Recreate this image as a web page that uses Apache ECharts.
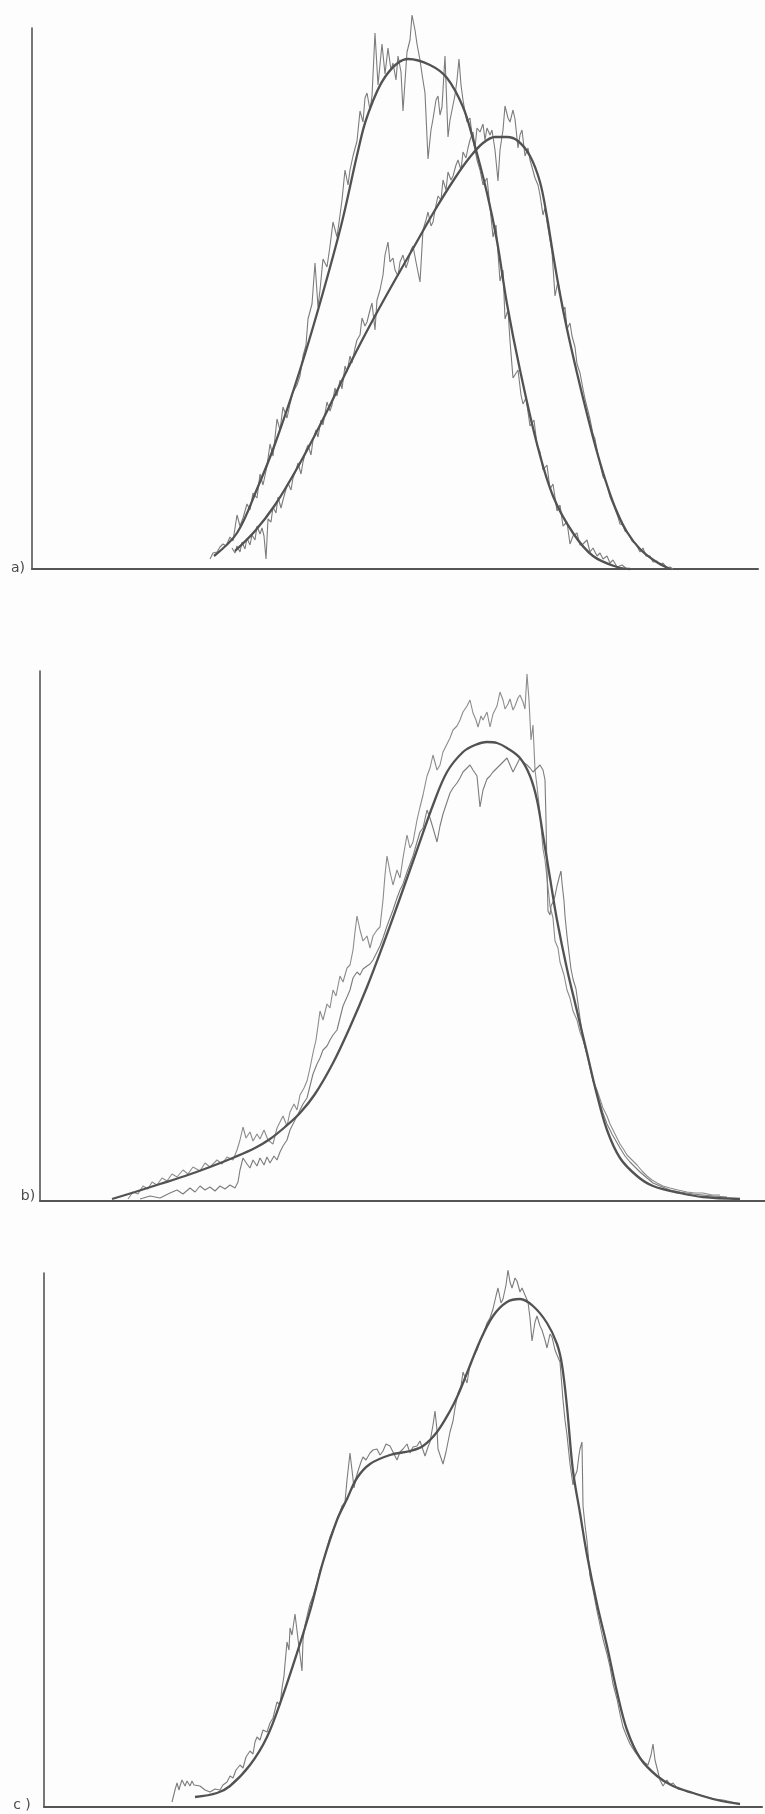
<!DOCTYPE html>
<html>
<head>
<meta charset="utf-8">
<title>a) b) c)</title>
<script src="https://cdn.jsdelivr.net/npm/echarts@6/dist/echarts.min.js"></script>
<style>
  html, body { margin: 0; padding: 0; background: #fdfdfd; }
  #chart { width: 765px; height: 1814px; }
</style>
</head>
<body>
<div id="chart"></div>
<script>
// ---- panel a : two spectra + their fits (channel, counts) ----
const aNoise1X = [178,181,185,188,191,194,198,201,205,208,
  211,215,218,221,225,228,231,235,238,241,
  245,248,251,255,258,261,265,268,271,274,
  276,280,283,286,288,291,295,298,301,305,
  308,310,313,316,318,321,325,328,331,333,
  335,338,340,343,346,350,353,356,359,361,
  364,366,369,371,375,378,380,383,385,388,
  390,393,396,399,401,404,406,408,410,413,
  416,418,420,423,425,427,429,431,433,435,
  438,440,443,445,448,451,455,458,461,464,
  468,471,473,476,478,481,486,489,491,494,
  498,502,505,508,511,515,518,521,525,528,
  531,535,538,541,545,548,551,555,558,561,
  565,568,571,575,578,581,585,590,595]
const aNoise1Y = [10,16,17,22,25,23,32,28,54,43,
  51,65,59,76,71,95,84,103,125,113,
  150,139,162,151,165,177,184,193,213,224,
  250,265,306,262,279,310,302,323,347,332,
  354,369,399,384,399,413,428,458,447,471,
  476,459,473,536,484,525,495,521,499,506,
  489,513,497,458,517,529,554,539,525,509,
  495,476,410,439,450,469,473,454,462,513,
  432,449,459,474,489,510,484,469,457,447,
  451,434,419,409,399,384,391,362,332,344,
  288,299,250,259,228,191,199,174,165,171,
  143,149,124,117,99,104,80,85,58,64,
  43,47,25,33,36,24,25,29,17,21,
  13,16,10,13,6,9,2,4,0]
const aFit1X = [182,205,225,243,268,290,310,326,335,353,376,398,415,431,441,455,465,475,488,505,521,541,561,585,598]
const aFit1Y = [13,36,80,125,199,273,347,418,452,492,510,504,491,462,430,376,328,265,199,125,73,36,13,2,0]

const aNoise2X = [200,203,205,208,210,213,215,218,220,223,
  225,228,230,232,234,236,239,241,244,246,
  249,251,254,256,259,261,264,266,269,271,
  274,276,279,281,284,286,289,291,295,298,
  300,303,305,308,310,313,315,318,320,323,
  325,328,330,333,335,338,340,343,345,348,
  351,353,356,358,361,363,366,368,371,374,
  376,379,381,384,388,391,394,396,399,401,
  404,406,409,411,414,416,419,421,424,426,
  429,431,434,436,438,441,443,445,448,451,
  453,455,458,460,463,466,468,471,473,476,
  478,481,483,486,488,490,493,496,498,500,
  503,506,508,511,513,515,518,520,523,526,
  528,531,533,535,538,540,543,545,548,551,
  553,555,558,561,563,566,568,571,574,578,
  580,583,586,588,591,593,596,600,604,608,
  611,614,618,621,625,628,631,635,638,641]
const aNoise2Y = [21,16,23,17,27,20,31,24,34,29,
  43,35,41,33,10,50,47,62,56,72,
  61,69,80,86,79,91,99,106,95,107,
  119,124,114,129,139,132,149,144,167,158,
  164,181,173,189,180,203,197,213,206,221,
  229,234,251,243,247,259,266,239,269,279,
  294,314,327,307,311,299,293,307,314,301,
  307,319,323,307,287,339,349,357,343,347,
  364,373,369,389,379,397,389,393,404,409,
  399,417,411,421,429,437,421,441,437,445,
  429,441,434,439,419,388,419,439,463,451,
  447,459,450,421,434,439,413,421,409,402,
  391,384,374,354,361,347,329,317,273,288,
  276,258,262,240,246,233,222,205,196,180,
  170,162,150,135,130,114,105,92,88,72,
  70,60,52,45,44,38,36,28,25,17,
  21,13,13,7,8,4,6,1,2,0]
const aFit2X = [203,223,243,263,283,303,323,343,363,383,403,423,438,451,463,475,486,498,508,515,521,528,535,545,555,565,575,585,595,608,623,638]
const aFit2Y = [18,38,64,97,134,174,215,253,289,324,359,391,412,426,432,432,428,413,387,352,315,275,240,196,155,117,84,57,37,20,8,0]

// ---- panel b : two overlaid spectra + one fit ----
const bUpperX = [88,93,98,103,108,112,117,122,127,132,
  137,143,148,153,160,165,170,177,182,187,
  193,197,200,203,206,210,213,217,220,224,
  228,233,237,240,243,247,250,254,257,260,
  264,267,270,273,276,278,280,283,287,290,
  293,296,300,303,307,310,313,315,317,320,
  323,327,330,333,337,340,343,345,347,350,
  353,357,360,363,367,370,373,377,380,383,
  387,390,393,397,400,403,407,410,413,417,
  420,423,427,430,433,436,438,441,443,447,
  450,453,457,460,463,465,468,470,473,475,
  478,480,483,485,487,489,491,493,495,497,
  500,503,505,507,510,513,515,518,520,524,
  527,530,533,537,540,543,547,550,553,557,
  560,563,567,570,573,577,580,584,587,592,
  597,602,607,612,617,623,630,638,647,655,
  663,672,680]
const bUpperY = [2,9,7,15,12,19,16,23,20,27,
  24,31,27,34,30,38,34,41,37,44,
  41,51,61,74,63,69,60,67,62,71,
  61,57,73,79,85,75,89,97,91,106,
  113,120,133,148,161,175,190,181,197,193,
  211,205,225,219,233,236,251,269,285,271,
  260,265,253,265,271,274,301,326,345,329,
  316,331,323,343,366,353,359,381,394,406,
  425,433,446,431,436,449,457,463,471,475,
  481,489,495,501,488,481,474,485,481,489,
  474,487,495,509,501,492,497,502,491,495,
  503,506,499,492,527,501,461,476,431,415,
  387,352,341,323,295,283,260,253,239,226,
  211,203,190,181,169,161,148,133,120,111,
  102,93,85,77,71,63,57,51,46,41,
  36,30,25,21,18,15,13,11,9,8,
  8,6,6]
const bLowerX = [100,110,120,130,137,143,150,155,160,165,
  170,175,180,185,190,195,198,200,203,207,
  210,213,217,220,224,227,230,234,237,240,
  243,247,250,253,257,260,263,267,270,273,
  277,280,283,287,290,293,297,300,303,307,
  310,313,317,320,323,327,330,333,337,340,
  343,347,350,353,357,360,363,367,370,373,
  377,380,383,387,390,393,397,400,403,407,
  410,413,417,420,423,427,430,433,437,440,
  443,447,450,453,457,460,463,467,470,473,
  477,480,483,487,490,493,497,500,503,505,
  506,507,508,510,511,513,515,517,519,521,
  522,524,525,527,529,531,533,536,539,543,
  547,550,553,557,560,563,567,572,576,580,
  585,590,595,600,607,613,620,630,640,653,
  663,673,687]
const bLowerY = [2,5,3,8,11,7,13,9,15,11,
  14,10,15,12,16,13,19,31,43,37,
  33,41,35,43,36,44,38,45,41,49,
  55,61,71,77,85,91,97,103,115,127,
  137,143,151,155,161,166,171,183,195,204,
  211,223,229,226,232,235,237,241,249,255,
  263,275,283,291,303,311,317,329,337,345,
  359,369,373,391,383,373,359,375,387,399,
  408,413,418,423,429,433,436,431,425,394,
  411,422,425,429,433,436,439,443,436,429,
  437,443,439,436,433,429,433,436,431,421,
  381,330,290,286,295,299,305,315,323,330,
  318,300,285,265,248,232,222,212,190,162,
  146,134,121,109,98,88,77,67,60,53,
  45,39,34,29,23,18,15,11,9,7,
  6,5,4]
const bFitX = [72,95,120,145,170,195,215,230,245,260,275,293,310,327,343,360,377,393,407,423,435,447,457,467,480,490,497,503,510,517,527,537,547,557,567,580,597,613,640,663,700]
const bFitY = [2,9,17,25,34,44,53,62,74,88,107,138,174,214,256,303,351,396,429,449,456,459,458,453,443,425,401,366,323,281,232,190,148,106,71,43,25,15,8,4,2]

// ---- panel c : one spectrum with a shoulder + fit ----
const cNoiseX = [128,131,133,135,136,138,139,141,143,144,
  146,148,150,152,156,161,166,171,176,179,
  183,186,189,192,196,199,202,206,209,211,
  213,216,219,223,226,229,233,236,238,240,
  241,243,245,246,248,251,254,256,258,259,
  261,264,266,269,273,276,279,282,286,289,
  293,296,298,301,303,306,308,310,312,314,
  317,319,322,326,329,333,336,339,342,346,
  349,353,356,359,363,366,369,373,376,378,
  381,384,386,389,391,393,394,397,399,402,
  404,406,409,411,414,417,419,423,426,429,
  433,436,439,443,446,449,452,454,457,459,
  462,464,466,468,471,473,476,478,481,484,
  486,488,491,493,496,498,501,503,506,508,
  511,513,516,519,521,523,526,529,531,533,
  535,536,538,539,541,543,546,549,553,556,
  559,563,566,569,573,576,579,583,586,591,
  596,601,604,607,609,611,614,616,619,623,
  626,629,634,639,644,649,656,663,671,679,
  688,696]
const cNoiseY = [5,17,24,17,21,27,29,21,26,24,
  21,26,22,20,21,17,15,18,17,22,
  25,31,29,37,42,39,50,56,53,65,
  70,67,77,75,84,89,105,102,119,131,
  143,165,157,179,172,193,168,152,136,167,
  182,195,203,211,224,237,245,255,270,277,
  287,295,301,305,327,354,337,319,329,336,
  345,350,347,354,357,358,352,356,363,361,
  355,347,355,358,363,354,360,361,366,368,
  351,360,365,382,396,377,358,349,343,355,
  365,375,386,399,414,421,435,424,442,449,
  457,466,472,484,489,498,511,519,504,508,
  522,537,525,519,529,526,515,519,512,505,
  489,466,485,491,481,477,467,459,473,470,
  457,452,445,407,387,372,343,322,331,336,
  352,358,365,301,282,266,231,217,196,182,
  168,153,140,123,108,93,80,70,63,55,
  49,44,42,52,63,47,35,27,21,27,
  22,24,18,17,15,14,12,10,8,7,
  5,3]
const cFitX = [151,173,186,206,223,239,253,266,279,293,303,313,326,346,366,379,393,406,414,423,436,449,463,476,489,503,513,518,523,529,536,543,553,563,573,583,596,613,629,649,673,696]
const cFitY = [10,14,21,42,70,112,154,196,245,287,308,329,343,352,356,361,375,396,412,434,466,491,505,508,501,484,463,442,400,336,294,252,203,161,115,77,49,31,21,14,7,3]

const panelLabels = ['a)', 'b)', 'c )']

const AXIS_COLOR = '#555'
const FIT_COLOR = '#525252'
const NOISE_COLOR = '#7c7c7c'
const NOISE_LIGHT = '#8c8c8c'

const zip = (xs, ys) => xs.map((x, i) => [x, ys[i]])

// each panel's axis box (y axis top down to x axis)
const grids = [
  { left: 32, top: 28, width: 726, height: 541 },
  { left: 40, top: 671, width: 725, height: 530 },
  { left: 44, top: 1273, width: 718, height: 534 }
]
const xMax = [726, 725, 718]
const yMax = [541, 530, 534]

const makeX = (i) => ({
  type: 'value', gridIndex: i, min: 0, max: xMax[i],
  axisLine: { lineStyle: { color: AXIS_COLOR, width: 2.2 } },
  axisTick: { show: false }, axisLabel: { show: false }, splitLine: { show: false }
})
const makeY = (i) => ({
  type: 'value', gridIndex: i, min: 0, max: yMax[i],
  axisLine: { show: true, lineStyle: { color: AXIS_COLOR, width: 1.6 } },
  axisTick: { show: false }, axisLabel: { show: false }, splitLine: { show: false }
})

const noise = (i, xs, ys, color) => ({
  type: 'line', xAxisIndex: i, yAxisIndex: i, data: zip(xs, ys),
  showSymbol: false, clip: false, silent: true, z: 2,
  lineStyle: { color: color, width: 1.1 }
})
const fit = (i, xs, ys) => ({
  type: 'line', xAxisIndex: i, yAxisIndex: i, data: zip(xs, ys),
  showSymbol: false, clip: false, silent: true, z: 3, smooth: 0.35,
  lineStyle: { color: FIT_COLOR, width: 2.3 }
})

const labelStyle = (text) => ({ text: text, font: '14px "DejaVu Sans"', fill: '#4a4a4a', align: 'center', verticalAlign: 'middle' })

const chart = echarts.init(document.getElementById('chart'))

chart.setOption({
  animation: false,
  backgroundColor: '#fdfdfd',
  grid: grids,
  xAxis: [makeX(0), makeX(1), makeX(2)],
  yAxis: [makeY(0), makeY(1), makeY(2)],
  series: [
    noise(0, aNoise1X, aNoise1Y, NOISE_COLOR),
    noise(0, aNoise2X, aNoise2Y, NOISE_COLOR),
    fit(0, aFit1X, aFit1Y),
    fit(0, aFit2X, aFit2Y),
    noise(1, bUpperX, bUpperY, NOISE_LIGHT),
    noise(1, bLowerX, bLowerY, NOISE_COLOR),
    fit(1, bFitX, bFitY),
    noise(2, cNoiseX, cNoiseY, NOISE_COLOR),
    fit(2, cFitX, cFitY)
  ],
  graphic: [
    { type: 'text', x: 18, y: 568, style: labelStyle(panelLabels[0]) },
    { type: 'text', x: 28, y: 1196, style: labelStyle(panelLabels[1]) },
    { type: 'text', x: 22, y: 1805, style: labelStyle(panelLabels[2]) }
  ]
})
</script>
</body>
</html>
